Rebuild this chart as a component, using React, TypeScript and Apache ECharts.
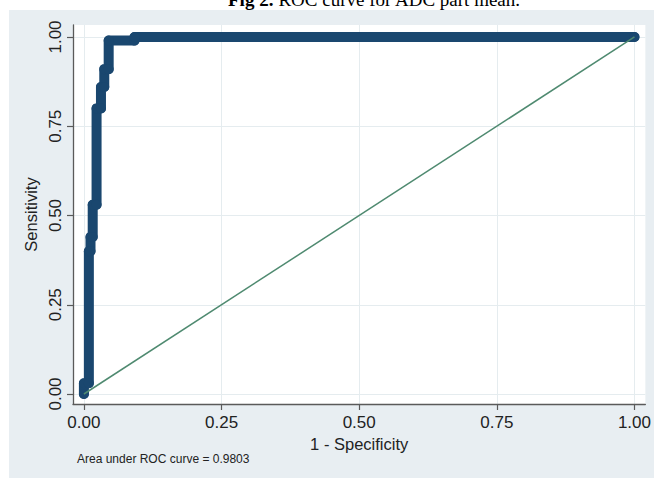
import React, { useEffect, useRef } from "react";
import * as echarts from "echarts";

// ROC curve vertices (1 - specificity, sensitivity)
const rocFpr = [0, 0, 0.009, 0.009, 0.012, 0.012, 0.016, 0.016, 0.023, 0.023, 0.031, 0.031, 0.037, 0.037, 0.045, 0.045, 0.092, 0.092, 1];
const rocTpr = [0, 0.03, 0.03, 0.4, 0.4, 0.44, 0.44, 0.53, 0.53, 0.8, 0.8, 0.86, 0.86, 0.91, 0.91, 0.99, 0.99, 1, 1];
// reference (chance) line
const refX = [0, 1];
const refY = [0, 1];
const tickValues = [0, 0.25, 0.5, 0.75, 1];
const xAxisTitle = "1 - Specificity";
const yAxisTitle = "Sensitivity";
const noteText = "Area under ROC curve = 0.9803";
const titleBold = "Fig 2.";
const titleRest = "ROC curve for ADC part mean.";

const SANS = "'Liberation Sans', Arial, Helvetica, sans-serif";
const NARROW = "'Liberation Sans Narrow', 'Arial Narrow', 'Liberation Sans', Arial, sans-serif";
const SERIF = "'Liberation Serif', 'Times New Roman', serif";

export default function App() {
  const ref = useRef<HTMLDivElement>(null);
  useEffect(() => {
    if (!ref.current) return;
    const chart = echarts.init(ref.current, null, { renderer: "svg" });
    const axisColor = "#5a5a5a";
    const gridColor = "#e5ecef";
    chart.setOption({
      animation: false,
      backgroundColor: "#ffffff",
      title: {
        text: `{b|${titleBold}} {n|${titleRest}}`,
        left: 228,
        top: -10,
        padding: 0,
        textStyle: {
          rich: {
            b: { fontFamily: SERIF, fontWeight: "bold", fontSize: 19, color: "#000", lineHeight: 19 },
            n: { fontFamily: SERIF, fontWeight: "normal", fontSize: 19, color: "#000", lineHeight: 19 },
          },
        },
      },
      graphic: [
        {
          type: "rect",
          z: -100,
          shape: { x: 9, y: 10, width: 645, height: 468 },
          style: { fill: "#e8eef2" },
        },
        {
          type: "text",
          left: 77,
          top: 453,
          style: { text: noteText, fontSize: 12, fontFamily: SANS, fill: "#222" },
        },
      ],
      grid: {
        left: 73,
        top: 25,
        width: 577,
        height: 379,
        show: true,
        backgroundColor: "#ffffff",
        borderWidth: 0,
      },
      xAxis: {
        type: "value",
        min: -0.0198,
        max: 1.0198,
        name: xAxisTitle,
        nameLocation: "middle",
        nameGap: 27,
        nameTextStyle: { fontSize: 16.5, fontFamily: SANS, color: "#222" },
        axisLine: { show: true, onZero: false, lineStyle: { color: axisColor, width: 1.3 } },
        axisTick: { show: true, length: 6, customValues: tickValues, lineStyle: { color: axisColor, width: 1.2 } },
        axisLabel: {
          customValues: tickValues,
          formatter: (v: number) => v.toFixed(2),
          fontSize: 17,
          fontFamily: SANS,
          color: "#222",
          margin: 10,
        },
        splitLine: { show: true, lineStyle: { color: gridColor, width: 1 } },
      },
      yAxis: {
        type: "value",
        min: -0.028,
        max: 1.0336,
        name: yAxisTitle,
        nameLocation: "middle",
        nameGap: 25,
        nameTextStyle: { fontSize: 16.5, fontFamily: SANS, color: "#222" },
        axisLine: { show: true, onZero: false, lineStyle: { color: axisColor, width: 1.3 } },
        axisTick: { show: true, length: 6, customValues: tickValues, lineStyle: { color: axisColor, width: 1.2 } },
        axisLabel: {
          customValues: tickValues,
          formatter: (v: number) => v.toFixed(2),
          rotate: 90,
          fontSize: 17,
          fontFamily: NARROW,
          color: "#222",
          margin: 9,
        },
        splitLine: { show: true, lineStyle: { color: gridColor, width: 1 } },
      },
      series: [
        {
          type: "line",
          data: rocFpr.map((x, i) => [x, rocTpr[i]]),
          symbol: "circle",
          symbolSize: 10,
          showSymbol: true,
          itemStyle: { color: "#1a476f" },
          lineStyle: { color: "#1a476f", width: 10, cap: "round", join: "round" },
          z: 2,
        },
        {
          type: "line",
          data: refX.map((x, i) => [x, refY[i]]),
          symbol: "none",
          lineStyle: { color: "#4f8a70", width: 1.5 },
          z: 3,
        },
      ],
    });
    return () => chart.dispose();
  }, []);
  return <div ref={ref} style={{ position: "fixed", left: 0, top: 0, width: 654, height: 482 }} />;
}
